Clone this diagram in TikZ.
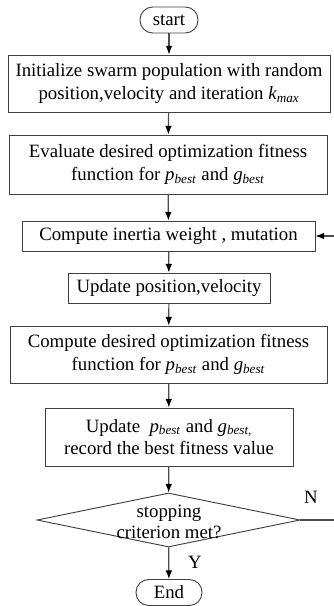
\documentclass[tikz,border=0pt]{standalone}
\usepackage{fontspec}
\setmainfont{Liberation Serif}
\usetikzlibrary{shapes.geometric, arrows.meta}
\newcommand{\itsub}[2]{\textit{#1}\textsubscript{\textit{#2}}}

\begin{document}
\begin{tikzpicture}[x=0.75pt, y=-0.75pt,
    font=\fontsize{14.1}{17}\selectfont,
    every node/.style={inner sep=0pt},
    block/.style={draw=black!75, line width=0.7pt, align=center},
    term/.style={draw=black!75, line width=0.7pt, rounded corners=9.5pt},
    decision/.style={draw=black!75, line width=0.7pt, diamond},
    arrow/.style={draw=black!70, line width=0.9pt, -{Latex[length=6.5pt,width=5pt,black]}}]
    \useasboundingbox (0,0) rectangle (334,606);

    % start
    \node[term, minimum width=43.5pt, minimum height=19.5pt] (start) at (169,20) {start};

    % initialisation
    \node[block, minimum width=241.5pt, minimum height=42.75pt] (init) at (169,83.5)
        {Initialize swarm population with random\\position,velocity and iteration \itsub{k}{max}};

    % first evaluation
    \node[block, minimum width=238.5pt, minimum height=44.25pt] (eval) at (168,164.5)
        {Evaluate desired optimization fitness\\function for \itsub{p}{best} and \itsub{g}{best}};

    % inertia weight and mutation
    \node[block, minimum width=219.75pt, minimum height=22.5pt] (inertia) at (168.5,236)
        {Compute inertia weight , mutation};

    % update
    \node[block, minimum width=151.5pt, minimum height=22.5pt] (update) at (169,288)
        {Update position,velocity};

    % second evaluation
    \node[block, minimum width=237.75pt, minimum height=42.75pt] (fit) at (168.5,354.5)
        {Compute desired optimization fitness\\function for \itsub{p}{best} and \itsub{g}{best}};

    % record best
    \node[block, minimum width=186pt, minimum height=43.5pt] (record) at (169,437)
        {Update~~\itsub{p}{best} and \itsub{g}{best,}\\record the best fitness value};

    % stopping test
    \node[decision, minimum width=197.25pt, minimum height=40.5pt] (stop) at (168.5,520) {};
    \node[align=center, font=\fontsize{14.1}{15.8}\selectfont] (stoptext) at (169,522)
        {stopping\\criterion met?};
    \node (no) at (311,497) {N};
    \node (yes) at (195,562) {Y};

    % end
    \node[term, minimum width=49.5pt, minimum height=19.5pt] (end) at (169,592.5) {End};

    % main flow
    \draw[arrow] (start) -- (init);
    \draw[arrow] (init) -- (eval);
    \draw[arrow] (eval) -- (inertia);
    \draw[arrow] (inertia) -- (update);
    \draw[arrow] (update) -- (fit);
    \draw[arrow] (fit) -- (record);
    \draw[arrow] (record) -- (stop);
    \draw[arrow] (stop) -- (end);

    % loop back
    \coordinate (back) at (342,520);
    \draw[arrow] (stop.east) -- (back) |- (inertia.east);
\end{tikzpicture}
\end{document}
